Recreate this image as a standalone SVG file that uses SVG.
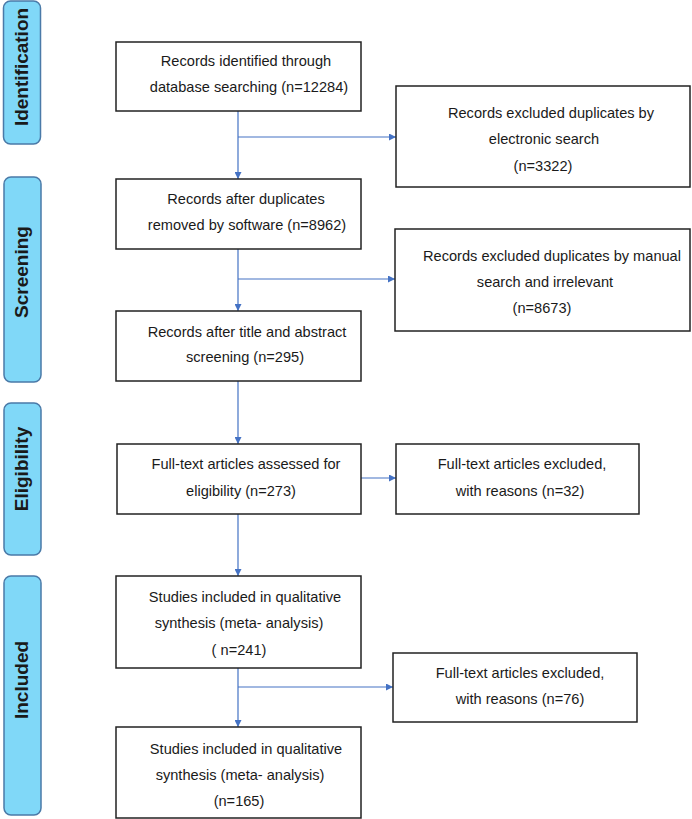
<svg xmlns="http://www.w3.org/2000/svg" width="692" height="819" viewBox="0 0 692 819">
<style>
.box{fill:#fff;stroke:#222;stroke-width:1.5}
.side{fill:#80d8f8;stroke:#4a7aa8;stroke-width:1.5}
.t{font-family:"Liberation Sans",Arial,sans-serif;font-size:14.6px;fill:#1a1a1a;text-anchor:middle}
.st{font-family:"Liberation Sans",Arial,sans-serif;font-size:19px;font-weight:bold;fill:#1a1a1a;text-anchor:middle}
.c{stroke:#4472c4;stroke-width:1.2;fill:none;marker-end:url(#ah)}
</style>
<defs>
<marker id="ah" viewBox="0 0 10 10" refX="10" refY="5" markerWidth="7" markerHeight="7" markerUnits="userSpaceOnUse" orient="auto">
<path d="M0,0 L10,5 L0,10 z" fill="#4472c4"/>
</marker>
</defs>
<rect width="692" height="819" fill="#fff"/>
<g id="side-identification"><rect class="side" x="3.5" y="1" width="37" height="143" rx="7"/><text class="st" transform="translate(28,67) rotate(-90)">Identification</text></g>
<g id="side-screening"><rect class="side" x="4" y="177" width="37" height="205" rx="7"/><text class="st" transform="translate(28,272) rotate(-90)">Screening</text></g>
<g id="side-eligibility"><rect class="side" x="4" y="403" width="37" height="152" rx="7"/><text class="st" transform="translate(28,469) rotate(-90)">Eligibility</text></g>
<g id="side-included"><rect class="side" x="4" y="576" width="37" height="239" rx="7"/><text class="st" transform="translate(28,680) rotate(-90)">Included</text></g>

<g id="connectors">
<line class="c" x1="238" y1="111" x2="238" y2="179"/>
<line class="c" x1="238" y1="137" x2="396" y2="137"/>
<line class="c" x1="238" y1="249" x2="238" y2="311"/>
<line class="c" x1="238" y1="279" x2="395" y2="279"/>
<line class="c" x1="238" y1="381" x2="238" y2="444"/>
<line class="c" x1="361" y1="478" x2="396" y2="478"/>
<line class="c" x1="238" y1="514" x2="238" y2="576"/>
<line class="c" x1="238" y1="668" x2="238" y2="727"/>
<line class="c" x1="238" y1="687" x2="393" y2="687"/>
</g>

<g id="n1"><rect class="box" x="116" y="42" width="245" height="69"/><text class="t" x="246" y="66">Records identified through</text><text class="t" x="249" y="92">database searching (n=12284)</text></g>
<g id="x1"><rect class="box" x="396" y="86" width="294" height="101"/><text class="t" x="551" y="118">Records excluded duplicates by</text><text class="t" x="544" y="144">electronic search</text><text class="t" x="543" y="171">(n=3322)</text></g>
<g id="n2"><rect class="box" x="116" y="179" width="245" height="70"/><text class="t" x="246" y="204">Records after duplicates</text><text class="t" x="247" y="230">removed by software (n=8962)</text></g>
<g id="x2"><rect class="box" x="395" y="229" width="295" height="102"/><text class="t" x="552" y="261">Records excluded duplicates by manual</text><text class="t" x="545" y="287">search and irrelevant</text><text class="t" x="542" y="313">(n=8673)</text></g>
<g id="n3"><rect class="box" x="116" y="311" width="245" height="70"/><text class="t" x="247" y="337">Records after title and abstract</text><text class="t" x="245" y="362">screening (n=295)</text></g>
<g id="n4"><rect class="box" x="117" y="444" width="244" height="70"/><text class="t" x="246" y="469">Full-text articles assessed for</text><text class="t" x="241" y="496">eligibility (n=273)</text></g>
<g id="x3"><rect class="box" x="396" y="444" width="243" height="70"/><text class="t" x="522" y="469">Full-text articles excluded,</text><text class="t" x="520" y="496">with reasons (n=32)</text></g>
<g id="n5"><rect class="box" x="116" y="576" width="245" height="92"/><text class="t" x="245" y="602">Studies included in qualitative</text><text class="t" x="239" y="628">synthesis (meta-  analysis)</text><text class="t" x="239" y="655">( n=241)</text></g>
<g id="x4"><rect class="box" x="393" y="653" width="244" height="69"/><text class="t" x="520" y="678">Full-text articles excluded,</text><text class="t" x="520" y="704">with reasons (n=76)</text></g>
<g id="n6"><rect class="box" x="116" y="727" width="245" height="91"/><text class="t" x="246" y="754">Studies included in qualitative</text><text class="t" x="240" y="780">synthesis (meta-  analysis)</text><text class="t" x="239" y="806">(n=165)</text></g>
</svg>
